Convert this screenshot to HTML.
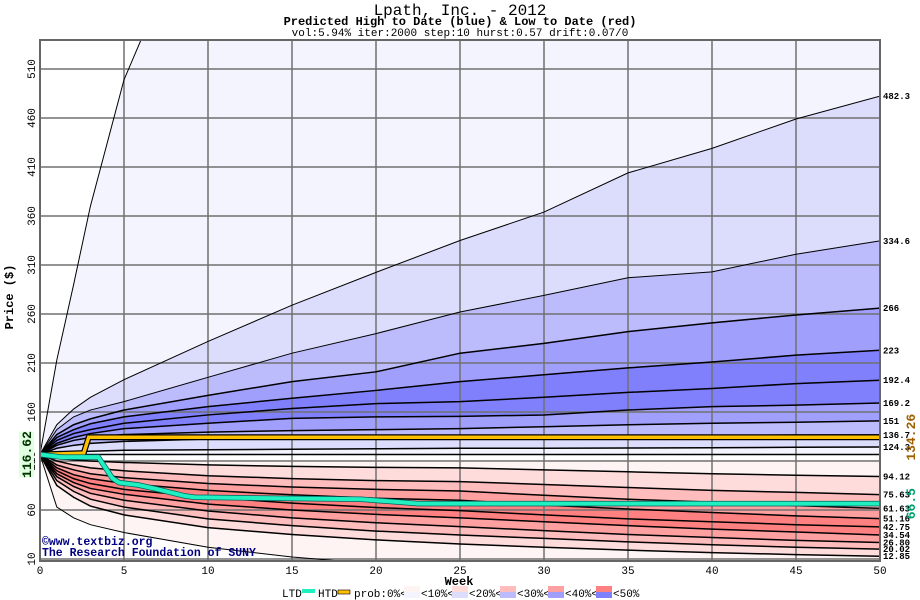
<!DOCTYPE html>
<html><head><meta charset="utf-8"><style>
html,body{margin:0;padding:0;background:#fff;width:920px;height:600px;overflow:hidden}
svg{display:block}
text{font-family:"Liberation Mono","DejaVu Sans Mono",monospace}
</style></head><body>
<svg id="chart" width="920" height="600" viewBox="0 0 920 600" xmlns="http://www.w3.org/2000/svg">
<text x="460" y="15" text-anchor="middle" font-size="16">Lpath, Inc. - 2012</text>
<text x="460" y="25" text-anchor="middle" font-size="12" font-weight="bold">Predicted High to Date (blue) &amp;  Low to Date (red)</text>
<text x="460" y="36" text-anchor="middle" font-size="11">vol:5.94% iter:2000 step:10 hurst:0.57 drift:0.07/0</text>
<g id="plot"></g>
<text transform="translate(13,297) rotate(-90)" text-anchor="middle" font-size="12" font-weight="bold">Price ($)</text>
<text x="459" y="585" text-anchor="middle" font-size="12" font-weight="bold">Week</text>
<g fill="#000080" font-size="11.5" font-weight="bold">
<text x="42" y="545">©www.textbiz.org</text>
<text x="42" y="556">The Research Foundation of SUNY</text>
</g>
<g id="legend" font-size="11"></g>
</svg>
<script>
const weeks = [0,1,2,3,5,10,15,20,25,30,35,40,45,50];
const blueLabels = ["482.3","334.6","266","223","192.4","169.2","151","136.7","124.3"];
const blueOuter = [116.6,213,290,370,499,700,850,950,1000,1000,1000,1000,1000,1000];
const blue482 = [116.6,147,163,175,193,232,269,302.5,335,364,404,429,459,482.3];
const blue334 = [116.6,142,155,162,170.6,195.4,220,240,262,279,297,303,321,334.6];
const blue266 = [116.6,137,147,153,162,177,191,201,220,230,242,251,259,266];
const blue223 = [116.6,134,142,148,155,165.5,174,182,191,198,205,211,218,223];
const blue192 = [116.6,131,138,142,148.5,157,163.6,168.6,170.6,175,180,184,189,192.4];
const blue169 = [116.6,128,134,138,143,148.5,153.5,155,155.5,157,162,165.5,167,169.2];
const blue151 = [116.6,126,131,134,137,139.5,141,142,143,145,147,148.5,149.5,151];
const blue136 = [116.6,123,126,128,130,132.5,133.5,134,134.5,135,135.5,136,136.5,136.7];
const blue124 = [116.6,118.5,119.5,120,121,121.5,122,122.5,123,123,123.3,123.5,124,124.3];
const baseLine = [116.6,116.6,116.6,116.6,116.6,116.6,116.6,116.6,116.6,116.6,116.6,116.6,116.6,116.6];
const redTop = [116.6,113,112,111.5,111.5,111.5,111.5,111.5,111.5,111.5,111.5,111.5,111.5,111.5];
const redLabels = ["94.12","75.63","61.63","51.16","42.75","34.54","26.80","20.02","12.85"];
const red94 = [116.6,113,111,110,108.5,106,104.5,103.5,103,101,99,97,95.5,94.12];
const red75 = [116.6,110,106,103,100,95,92,90,89,86,83,80,78,75.63];
const red61 = [116.6,106,101,97,93,87,83.5,81,79.4,75,71,68,64.5,61.63];
const red51 = [116.6,103,96,92,87,80,75.5,72,70,65,61,57.5,54,51.16];
const red42 = [116.6,100,92,87,81,73,67,62.5,59.3,55,51,48,45,42.75];
const red34 = [116.6,97,88,82,76,66,60,55.5,52,48,44,40.5,37.5,34.54];
const red26 = [116.6,94,84,77,70,59,52,47,43,39,35,32,29,26.8];
const red20 = [116.6,90,79,71,63,51,44,38.5,34.5,31,27.5,24.5,22,20.02];
const red12 = [116.6,85,73,64,55,42,35,29.5,25.3,22,19,16.5,14.5,12.85];
const redOuter = [116.6,63,52,45,37,22,12,5,0,-5,-5,-5,-5,-5];
const htdWeeks = [0,2.6,2.9,50];
const htdVals = [116.6,118,134.26,134.26];
const ltdWeeks = [0,1.3,3.47,4.3,4.7,5.85,6.95,8.63,9.2,19.1,21.4,22.5,50];
const ltdVals = [116.6,114,114,92.6,88,85.5,81.4,74.3,73,71,68,66.5,66.5];
const xTicks = [0,5,10,15,20,25,30,35,40,45,50];
const yTicks = [10,60,110,160,210,260,310,360,410,460,510];
const startPrice = "116.62", htdLast = "134.26", ltdLast = "66.5";

const X0=40, X1=880, Y0=40, Y1=561;
const xs = w => X0 + w*(X1-X0)/50;
const ys = v => 69 + (510-v)*0.98;
const NS="http://www.w3.org/2000/svg";
const plot=document.getElementById('plot');
function mk(tag,attrs,parent){const e=document.createElementNS(NS,tag);for(const k in attrs)e.setAttribute(k,attrs[k]);(parent||plot).appendChild(e);return e;}
function pts(arr){return weeks.map((w,i)=>xs(w)+','+ys(arr[i]));}

const defs=mk('defs',{},document.getElementById('chart'));
const cp=mk('clipPath',{id:'pc'},defs);mk('rect',{x:X0,y:Y0,width:X1-X0,height:Y1-Y0},cp);
const g=mk('g',{'clip-path':'url(#pc)'});
mk('rect',{x:X0,y:Y0,width:X1-X0,height:Y1-Y0,fill:'#ffffff'},g);
const bands=[
 [blueOuter,blue482,'#f4f4ff'],[blue482,blue334,'#dcdcfc'],[blue334,blue266,'#bcbcfc'],[blue266,blue223,'#a0a0fc'],
 [blue223,blue192,'#8080fc'],[blue192,blue169,'#8080fc'],[blue169,blue151,'#a0a0fc'],[blue151,blue136,'#bcbcfc'],
 [blue136,blue124,'#dcdcfc'],[blue124,baseLine,'#f4f4ff'],
 [redTop,red94,'#fff4f4'],[red94,red75,'#ffdcdc'],[red75,red61,'#ffbcbc'],[red61,red51,'#ffa0a0'],[red51,red42,'#ff8080'],
 [red42,red34,'#ff8080'],[red34,red26,'#ffa0a0'],[red26,red20,'#ffbcbc'],[red20,red12,'#ffdcdc'],[red12,redOuter,'#fff4f4']];
bands.forEach((b)=>{
 const p=mk('polygon',{points:pts(b[0]).concat(pts(b[1]).reverse()).join(' '),fill:b[2]},g);
 
 
});
xTicks.forEach(w=>{const l=mk('line',{x1:xs(w),x2:xs(w),y1:Y0,y2:Y1,stroke:'#707070','stroke-width':1.5},g);
 
 });
yTicks.forEach(v=>{const l=mk('line',{x1:X0,x2:X1,y1:ys(v),y2:ys(v),stroke:'#707070','stroke-width':1.5},g);
 
 });
const curves=[blueOuter,blue482,blue334,blue266,blue223,blue192,blue169,blue151,blue136,blue124,baseLine,red94,red75,red61,red51,red42,red34,red26,red20,red12,redOuter];
curves.forEach((c,i)=>{const thin=(i<3||i>=20);const l=mk('polyline',{points:pts(c).join(' '),fill:'none',stroke:'#000','stroke-width':thin?1:1.5},g);
 
 });
function stepPts(ws,vs){const o=[];for(let i=0;i<ws.length;i++){o.push(xs(ws[i])+','+ys(vs[i]));}return o.join(' ');}
mk('polyline',{points:stepPts(htdWeeks,htdVals),fill:'none',stroke:'#000','stroke-width':6},g);
const htd=mk('polyline',{points:stepPts(htdWeeks,htdVals),fill:'none',stroke:'#ffc000','stroke-width':3.5},g);


const lp=stepPts(ltdWeeks,ltdVals);
mk('polyline',{points:lp,fill:'none',stroke:'#006060','stroke-width':5.5},g);
const ltd=mk('polyline',{points:lp,fill:'none',stroke:'#20f0c0','stroke-width':4},g);


mk('rect',{x:X0,y:Y0,width:X1-X0,height:Y1-Y0,fill:'none',stroke:'#666','stroke-width':2});
xTicks.forEach(w=>{const t=mk('text',{x:xs(w),y:574,'text-anchor':'middle','font-size':11});t.textContent=w;
 
 });
yTicks.forEach(v=>{const t=mk('text',{transform:`translate(35,${ys(v)}) rotate(-90)`,'text-anchor':'middle','font-size':11});t.textContent=v;
 
 });
const ends=[[blue482,blueLabels[0]],[blue334,blueLabels[1]],[blue266,blueLabels[2]],[blue223,blueLabels[3]],[blue192,blueLabels[4]],[blue169,blueLabels[5]],[blue151,blueLabels[6]],[blue136,blueLabels[7]],[blue124,blueLabels[8]],
 [red94,redLabels[0]],[red75,redLabels[1]],[red61,redLabels[2]],[red51,redLabels[3]],[red42,redLabels[4]],[red34,redLabels[5]],[red26,redLabels[6]],[red20,redLabels[7]],[red12,redLabels[8]]];
ends.forEach(e=>{const t=mk('text',{x:883,y:ys(e[0][e[0].length-1])+3,'font-size':9,'font-weight':'bold'});t.textContent=e[1];
 
 });
mk('rect',{x:19,y:ys(116.6)-23,width:15,height:46,fill:'#e0ffe0'});
const sp=mk('text',{transform:`translate(31,${ys(116.6)}) rotate(-90)`,'text-anchor':'middle','font-size':13,'font-weight':'bold',fill:'#003000'});sp.textContent=startPrice;


const hl=mk('text',{transform:`translate(915,${ys(134.26)}) rotate(-90)`,'text-anchor':'middle','font-size':13,'font-weight':'bold',fill:'#a06000'});hl.textContent=htdLast;


const ll=mk('text',{transform:`translate(915,${ys(66.5)}) rotate(-90)`,'text-anchor':'middle','font-size':13,'font-weight':'bold',fill:'#00a070'});ll.textContent=ltdLast;


const lg=document.getElementById('legend');
function lt(x,s,name){const t=mk('text',{x:x,y:597},lg);t.textContent=s;}
lt(282,'LTD','legend-ltd-label');
mk('rect',{x:302,y:589,width:13,height:4,fill:'#20f0c0'},lg);
lt(318,'HTD','legend-htd-label');
mk('rect',{x:338,y:590,width:12,height:4,fill:'#ffc000',stroke:'#000','stroke-width':0.6},lg);
lt(354,'prob:0%<','legend-prob-label');
const sw=[['#fff4f4','#f4f4ff','<10%<'],['#ffdcdc','#dcdcfc','<20%<'],['#ffbcbc','#bcbcfc','<30%<'],['#ffa0a0','#a0a0fc','<40%<'],['#ff8080','#8080fc','<50%']];
sw.forEach((s,i)=>{const x=404+i*48;mk('rect',{x:x,y:586,width:16,height:6,fill:s[0]},lg);mk('rect',{x:x,y:592,width:16,height:6,fill:s[1]},lg);lt(x+17,s[2],'legend-band-label');});
</script>
</body></html>
